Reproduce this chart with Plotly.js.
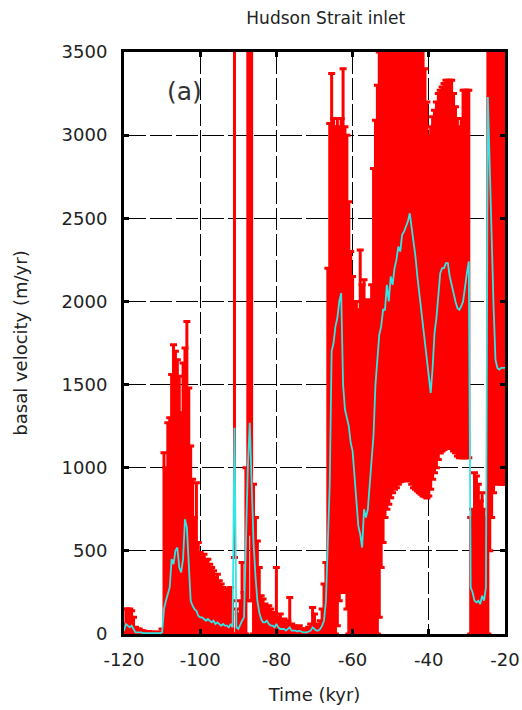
<!DOCTYPE html>
<html>
<head>
<meta charset="utf-8">
<script src="https://cdn.plot.ly/plotly-3.0.1.min.js"></script>
<style>html,body{margin:0;padding:0;background:#fff;}#chart{width:522px;height:710px;}</style>
</head>
<body>
<div id="chart"></div>
<script>
// Time (kyr)
const timeKyr = [-120,-119.5,-119,-118.5,-118,-117.5,-117,-116.5,-116,-115.5,-115,-114.5,-114,-113.5,-113,-112.5,-112,-111.5,-111,-110.5,
-110,-109.5,-109,-108.5,-108,-107.5,-107,-106.5,-106,-105.5,-105,-104.5,-104,-103.5,-103,-102.5,-102,-101.5,-101,-100.5,
-100,-99.5,-99,-98.5,-98,-97.5,-97,-96.5,-96,-95.5,-95,-94.5,-94,-93.5,-93,-92.5,-92,-91.5,-91,-90.5,
-90,-89.5,-89,-88.5,-88,-87.5,-87,-86.5,-86,-85.5,-85,-84.5,-84,-83.5,-83,-82.5,-82,-81.5,-81,-80.5,
-80,-79.5,-79,-78.5,-78,-77.5,-77,-76.5,-76,-75.5,-75,-74.5,-74,-73.5,-73,-72.5,-72,-71.5,-71,-70.5,
-70,-69.5,-69,-68.5,-68,-67.5,-67,-66.5,-66,-65.5,-65,-64.5,-64,-63.5,-63,-62.5,-62,-61.5,-61,-60.5,
-60,-59.5,-59,-58.5,-58,-57.5,-57,-56.5,-56,-55.5,-55,-54.5,-54,-53.5,-53,-52.5,-52,-51.5,-51,-50.5,
-50,-49.5,-49,-48.5,-48,-47.5,-47,-46.5,-46,-45.5,-45,-44.5,-44,-43.5,-43,-42.5,-42,-41.5,-41,-40.5,
-40,-39.5,-39,-38.5,-38,-37.5,-37,-36.5,-36,-35.5,-35,-34.5,-34,-33.5,-33,-32.5,-32,-31.5,-31,-30.5,
-30,-29.5,-29,-28.5,-28,-27.5,-27,-26.5,-26,-25.5,-25,-24.5,-24,-23.5,-23,-22.5,-22,-21.5,-21,-20.5,-20];

// Mean basal velocity (m/yr)
const meanVel = [20,60,50,40,50,30,10,10,10,10,5,5,5,5,5,5,5,5,5,5,
10,150,200,250,280,450,420,500,520,400,370,450,690,640,450,200,170,150,140,110,
100,100,90,80,90,80,70,80,60,70,60,50,60,50,50,40,60,40,1240,40,
30,60,80,100,600,1000,1270,900,550,350,200,130,90,70,70,80,60,50,50,40,
60,40,30,30,30,20,30,40,20,20,20,15,20,15,10,10,10,15,20,40,
30,20,20,30,50,80,200,500,900,1700,1750,1850,1900,2000,2050,1500,1350,1300,1250,1150,
1100,950,800,650,600,520,750,700,750,900,1100,1200,1500,1650,1800,1850,1950,1950,2100,2000,
2150,2100,2200,2250,2330,2300,2400,2420,2450,2480,2530,2450,2350,2270,2150,2050,1970,1850,1770,1650,
1550,1450,1600,1810,1900,2050,2170,2200,2200,2230,2230,2150,2090,2050,2000,1960,1950,1970,2000,2100,
2170,2240,280,250,200,190,200,180,230,200,280,3230,2770,2370,1970,1650,1600,1590,1600,1600,1600];

// Lower bound (m/yr)
const lowVel = [0,0,0,0,0,0,0,0,0,0,0,0,0,0,0,0,0,0,0,0,
0,0,0,0,0,0,0,0,0,0,0,0,0,0,0,0,0,0,0,0,
0,0,0,0,0,0,0,0,0,0,0,0,0,0,0,0,0,0,460,0,
0,0,0,0,0,200,600,200,0,0,0,0,0,0,0,0,0,0,0,0,
0,0,0,0,0,0,0,0,0,0,0,0,0,0,0,0,0,0,0,0,
0,0,0,0,0,0,0,0,0,0,0,0,50,200,250,250,250,150,0,0,
0,0,0,0,0,0,0,0,0,0,0,0,0,0,100,400,550,700,750,780,
820,850,870,880,900,915,920,930,930,920,925,900,880,870,860,850,840,830,825,818,
830,870,930,970,1000,1050,1088,1100,1110,1115,1120,1120,1115,1100,1090,1070,1060,1060,1060,1060,
1060,1060,0,0,0,0,0,0,0,0,0,0,500,700,850,907,900,910,900,900,900];

// Upper bound (m/yr)
const highVel = [60,150,150,150,140,100,40,30,30,20,20,15,15,15,10,10,10,10,10,10,
30,1090,1000,1270,1300,1560,1740,1700,1650,1550,1330,1630,1720,1880,1480,1130,930,700,910,550,
490,460,480,440,450,420,400,380,340,360,320,300,280,250,270,260,280,200,3800,150,
120,200,430,250,1000,3800,3800,3800,900,700,560,400,230,210,180,160,170,150,130,130,
400,100,120,80,90,60,80,220,60,50,40,40,50,30,30,30,20,40,60,160,
120,50,60,80,150,300,430,2200,3070,3370,3100,3050,3100,3050,3100,3400,3050,3000,2600,2300,
2150,2000,2000,1950,2310,2100,2130,2000,2010,2000,2100,2800,3090,3300,3500,3600,3800,3800,3800,3800,
3800,3800,3800,3800,3800,3800,3800,3800,3800,3800,3800,3800,3800,3800,3800,3800,3800,3600,3400,3200,
3000,3050,3110,3150,3200,3250,3270,3290,3310,3330,3330,3330,3330,3250,3170,3100,3050,3100,3270,3270,
3270,3270,700,750,970,950,900,800,850,750,700,3800,3800,3800,3800,3800,3800,3800,3800,3800,3800];

const xTicks = [-120,-100,-80,-60,-40,-20];
const yTicks = [0,500,1000,1500,2000,2500,3000,3500];

const errPlus = highVel.map((h,i)=>Math.max(0,h-meanVel[i]));
const errMinus = lowVel.map((l,i)=>Math.max(0,meanVel[i]-l));

const FONT = 'DejaVu Sans, Liberation Sans, Arial, sans-serif';

const traces = [
  {
    type:'scatter', mode:'markers', x:timeKyr, y:meanVel,
    marker:{size:2, color:'rgba(255,0,0,1)'},
    error_y:{type:'data', symmetric:false, array:errPlus, arrayminus:errMinus,
             color:'#ff0000', thickness:3, width:3.5},
    hoverinfo:'skip', showlegend:false
  },
  {
    type:'scatter', mode:'lines', x:timeKyr, y:meanVel,
    line:{color:'#30e6e6', width:1.8},
    showlegend:false
  }
];

const axisCommon = {
  showline:true, mirror:'ticks', linecolor:'#000', linewidth:3,
  ticks:'inside', ticklen:5, tickwidth:3, tickcolor:'#000',
  showgrid:true, gridcolor:'#000', gridwidth:1.2, griddash:'22px,4px',
  zeroline:false,
  tickfont:{family:FONT, size:18, color:'#222'}
};

const layout = {
  width:522, height:710,
  margin:{l:124, r:17, t:52, b:76},
  paper_bgcolor:'#fff', plot_bgcolor:'#fff',
  title:{text:'Hudson Strait inlet', x:0.624, xanchor:'center', y:0.975, yanchor:'middle',
         font:{family:FONT, size:17, color:'#222'}},
  xaxis:Object.assign({}, axisCommon, {
    range:[-120,-20], tickvals:xTicks, ticktext:xTicks.map(String), ticklabelstandoff:7,
    title:{text:'Time (kyr)', font:{family:FONT, size:18, color:'#222'}, standoff:20}
  }),
  yaxis:Object.assign({}, axisCommon, {
    range:[0,3500], tickvals:yTicks, ticktext:yTicks.map(String), ticklabelstandoff:10,
    title:{text:'basal velocity (m/yr)', font:{family:FONT, size:18, color:'#222'}, standoff:30}
  }),
  annotations:[{
    text:'(a)', xref:'paper', yref:'paper', x:0.16, y:0.932, xanchor:'center', yanchor:'middle',
    showarrow:false, font:{family:FONT, size:25, color:'#333'}
  }]
};

Plotly.newPlot('chart', traces, layout, {staticPlot:true});
</script>
</body>
</html>
